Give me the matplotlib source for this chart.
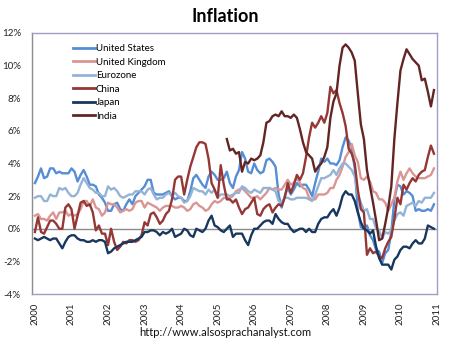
import numpy as np
import matplotlib
matplotlib.use("Agg")
import matplotlib.pyplot as plt

# monthly year-on-year inflation, Jan 2000 - Dec 2010 (%)
us = [2.8, 3.2, 3.7, 3.1, 3.2, 3.7, 3.7, 3.4, 3.5, 3.4, 3.4, 3.4,
      3.7, 3.5, 2.9, 3.3, 3.6, 3.2, 2.7, 2.7, 2.6, 2.1, 1.9, 1.6,
      1.1, 1.1, 1.5, 1.6, 1.2, 1.1, 1.5, 1.8, 1.5, 2.0, 2.2, 2.4,
      2.6, 3.0, 3.0, 2.2, 2.1, 2.1, 2.1, 2.2, 2.3, 2.0, 1.8, 1.9,
      1.9, 1.7, 1.7, 2.3, 3.1, 3.3, 3.0, 2.7, 2.5, 3.2, 3.5, 3.3,
      3.0, 3.0, 3.1, 3.5, 2.8, 2.5, 3.2, 3.6, 4.7, 4.3, 3.5, 3.4,
      4.0, 3.6, 3.4, 3.5, 4.2, 4.3, 4.1, 3.8, 2.1, 1.3, 2.0, 2.5,
      2.1, 2.4, 2.8, 2.6, 2.7, 2.7, 2.4, 2.0, 2.8, 3.5, 4.3, 4.1,
      4.3, 4.0, 4.0, 3.9, 4.2, 5.0, 5.6, 5.4, 4.9, 3.7, 1.1, 0.1,
      0.0, 0.2, -0.4, -0.7, -1.3, -1.4, -2.1, -1.5, -1.3, -0.2, 1.8, 2.7,
      2.6, 2.1, 2.3, 2.2, 2.0, 1.1, 1.2, 1.1, 1.1, 1.2, 1.1, 1.5]

uk = [0.8, 0.9, 0.6, 0.6, 0.5, 0.8, 1.0, 0.6, 1.0, 1.0, 1.1, 0.8,
      0.9, 0.8, 0.9, 1.2, 1.7, 1.7, 1.4, 1.8, 1.3, 1.2, 0.8, 1.0,
      1.6, 1.5, 1.5, 1.3, 1.0, 1.1, 1.2, 1.1, 1.2, 1.6, 1.7, 1.7,
      1.3, 1.6, 1.5, 1.4, 1.3, 1.1, 1.3, 1.4, 1.4, 1.4, 1.3, 1.3,
      1.4, 1.3, 1.1, 1.2, 1.5, 1.6, 1.4, 1.3, 1.1, 1.2, 1.5, 1.7,
      1.6, 1.7, 1.9, 1.9, 1.9, 2.0, 2.3, 2.4, 2.5, 2.3, 2.1, 1.9,
      1.9, 2.0, 1.8, 2.0, 2.2, 2.5, 2.4, 2.5, 2.4, 2.4, 2.7, 3.0,
      2.7, 2.8, 3.1, 2.8, 2.5, 2.4, 1.9, 1.8, 1.8, 2.1, 2.1, 2.1,
      2.2, 2.5, 2.5, 3.0, 3.3, 3.8, 4.4, 4.7, 5.2, 4.5, 4.1, 3.1,
      3.0, 3.2, 2.9, 2.3, 2.2, 1.8, 1.8, 1.6, 1.1, 1.5, 1.9, 2.9,
      3.5, 3.0, 3.4, 3.7, 3.4, 3.2, 3.1, 3.1, 3.1, 3.2, 3.3, 3.7]

eurozone = [1.9, 2.0, 2.0, 1.7, 1.7, 2.1, 2.0, 2.0, 2.5, 2.4, 2.5, 2.2,
            2.0, 2.0, 2.2, 2.7, 3.1, 2.8, 2.5, 2.4, 2.2, 2.2, 2.0, 2.0,
            2.6, 2.4, 2.5, 2.3, 2.0, 1.9, 2.0, 2.1, 2.1, 2.3, 2.3, 2.3,
            2.1, 2.4, 2.5, 2.1, 1.8, 1.9, 1.9, 2.1, 2.2, 2.0, 2.2, 2.0,
            1.9, 1.6, 1.7, 2.0, 2.5, 2.4, 2.3, 2.3, 2.1, 2.4, 2.2, 2.4,
            1.9, 2.1, 2.1, 2.1, 2.0, 2.1, 2.2, 2.2, 2.6, 2.5, 2.3, 2.2,
            2.4, 2.3, 2.2, 2.5, 2.5, 2.5, 2.4, 2.3, 1.7, 1.6, 1.9, 1.9,
            1.8, 1.8, 1.9, 1.9, 1.9, 1.9, 1.8, 1.7, 2.1, 2.6, 3.1, 3.1,
            3.2, 3.3, 3.6, 3.3, 3.7, 4.0, 4.0, 3.8, 3.6, 3.2, 2.1, 1.6,
            1.1, 1.2, 0.6, 0.6, 0.0, -0.1, -0.6, -0.2, -0.3, -0.1, 0.5, 0.9,
            1.0, 0.8, 1.4, 1.5, 1.6, 1.4, 1.7, 1.6, 1.9, 1.9, 1.9, 2.2]

china = [-0.2, 0.7, -0.2, -0.3, 0.1, 0.5, 0.5, 0.3, 0.0, 0.0, 1.3, 1.5,
         1.2, 0.0, 0.8, 1.6, 1.7, 1.4, 1.5, 1.0, -0.1, 0.2, -0.3, -0.3,
         -1.0, 0.0, -0.8, -1.3, -1.1, -0.8, -0.9, -0.7, -0.7, -0.8, -0.7, -0.4,
         0.4, 0.2, 0.9, 1.0, 0.7, 0.3, 0.5, 0.9, 1.1, 1.8, 3.0, 3.2,
         3.2, 2.1, 3.0, 3.8, 4.4, 5.0, 5.3, 5.3, 5.2, 4.3, 2.8, 2.4,
         1.9, 3.9, 2.7, 1.8, 1.8, 1.6, 1.8, 1.3, 0.9, 1.2, 1.3, 1.6,
         1.9, 0.9, 0.8, 1.2, 1.4, 1.5, 1.0, 1.3, 1.5, 1.4, 1.9, 2.8,
         2.2, 2.7, 3.3, 3.0, 3.4, 4.4, 5.6, 6.5, 6.2, 6.5, 6.9, 6.5,
         7.1, 8.7, 8.3, 8.5, 7.7, 7.1, 6.3, 4.9, 4.6, 4.0, 2.4, 1.2,
         1.0, -1.6, -1.2, -1.5, -1.4, -1.7, -1.8, -1.2, -0.8, -0.5, 0.6, 1.9,
         1.5, 2.7, 2.4, 2.8, 3.1, 2.9, 3.3, 3.5, 3.6, 4.4, 5.1, 4.6]

japan = [-0.6, -0.7, -0.6, -0.5, -0.6, -0.7, -0.6, -0.6, -0.9, -1.2, -0.8, -0.5,
         -0.4, -0.4, -0.6, -0.7, -0.7, -0.8, -0.8, -0.7, -0.8, -0.7, -0.7, -0.8,
         -1.5, -1.4, -1.2, -1.1, -1.0, -0.9, -0.8, -0.8, -0.8, -0.7, -0.6, -0.5,
         -0.2, -0.2, -0.1, -0.1, -0.2, -0.4, -0.2, -0.3, -0.2, 0.0, -0.5, -0.4,
         -0.3, 0.0, -0.1, -0.4, -0.5, 0.0, -0.1, -0.2, 0.0, 0.5, 0.8, 0.2,
         0.1, -0.1, -0.2, 0.0, 0.2, -0.5, -0.3, -0.3, -0.3, -0.7, -1.0, -0.4,
         0.0, 0.0, 0.2, 0.4, 0.5, 0.5, 0.3, 0.9, 0.6, 0.4, 0.3, 0.3,
         0.0, -0.2, -0.1, 0.0, 0.0, -0.2, 0.0, -0.2, -0.2, 0.3, 0.6, 0.7,
         0.7, 1.0, 1.2, 0.8, 1.3, 2.0, 2.3, 2.1, 2.1, 1.7, 1.0, 0.4,
         0.0, -0.1, -0.3, -0.1, -1.1, -1.8, -2.2, -2.2, -2.2, -2.5, -1.9, -1.7,
         -1.3, -1.1, -1.1, -1.2, -0.9, -0.7, -0.9, -0.9, -0.6, 0.2, 0.1, 0.0]

# India series starts in April 2005
india_start = 63
india = [5.5, 4.8, 4.9, 4.6, 4.7, 3.5, 4.1, 4.0, 4.3,
         4.2, 4.3, 4.5, 5.3, 6.5, 6.6, 6.9, 7.0, 6.9, 7.2, 6.9, 6.9,
         6.8, 7.0, 6.8, 6.1, 5.3, 4.7, 4.5, 4.3, 3.5, 3.8, 4.0, 4.4,
         5.0, 6.8, 7.8, 8.3, 10.0, 11.1, 11.3, 11.1, 10.8, 10.3, 8.3, 6.4,
         5.5, 3.6, 2.6, 1.6, 0.5, -0.7, -0.6, 0.3, 1.3, 2.6, 5.5, 7.7,
         9.7, 10.4, 11.0, 10.7, 10.4, 10.2, 10.0, 9.1, 9.2, 8.4, 7.5, 8.5]

years = list(range(2000, 2012))
yticks = [12, 10, 8, 6, 4, 2, 0, -2, -4]

t = 2000 + np.arange(len(us)) / 12.0
t_india = t[india_start:india_start + len(india)]

series = [
    ("United States", us, t, "#558ed5"),
    ("United Kingdom", uk, t, "#d99694"),
    ("Eurozone", eurozone, t, "#95b3d7"),
    ("China", china, t, "#953735"),
    ("Japan", japan, t, "#17375e"),
    ("India", india, t_india, "#632523"),
]

plt.rcParams["font.family"] = ["Lato", "DejaVu Sans"]
fig = plt.figure(figsize=(4.5, 3.41), dpi=100)
ax = fig.add_axes([32 / 450, 1 - 294 / 341, 405 / 450, 261 / 341])

ax.axhline(0, color="#8c8c8c", lw=1.0, zorder=1)
for name, vals, x, col in series:
    ax.plot(x, vals, color=col, lw=1.7, label=name, zorder=2)

ax.set_xlim(1999.92, 2011.0)
ax.set_ylim(-4, 12)
ax.set_yticks(yticks)
ax.set_yticklabels([f"{v}%" for v in yticks], fontsize=7, color="#222222")
ax.set_xticks(years)
ax.set_xticklabels([str(y) for y in years], rotation=90, fontsize=7, color="#222222")
ax.tick_params(axis="y", length=0, pad=8)
ax.tick_params(axis="x", length=0, pad=6)

for side in ["top", "right", "bottom"]:
    ax.spines[side].set_color("#a39dc2")
    ax.spines[side].set_linewidth(1.0)
ax.spines["left"].set_color("#8c8c8c")
ax.spines["left"].set_linewidth(1.0)

leg = ax.legend(loc="upper left", bbox_to_anchor=(0.1, 0.957), frameon=False,
                fontsize=7, handlelength=2.3, handletextpad=0.1,
                labelspacing=0.46, borderpad=0, borderaxespad=0)
for line in leg.get_lines():
    line.set_linewidth(2.0)

fig.text(0.5, 1 - 17 / 341, "Inflation", ha="center", va="center",
         fontsize=13, fontweight="bold")
fig.text(0.5, 1 - 332 / 341, "http://www.alsosprachanalyst.com",
         ha="center", va="center", fontsize=8, color="#111111")

fig.savefig("out.png", dpi=100)
